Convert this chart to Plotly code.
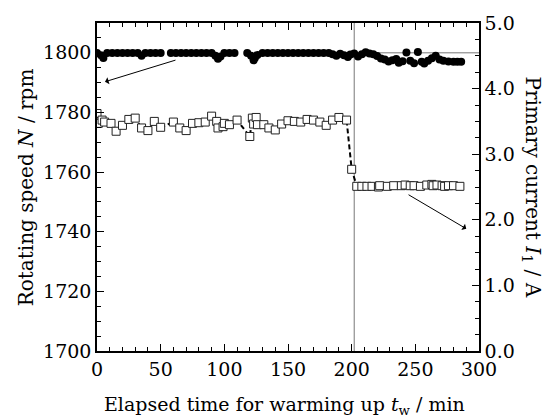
import plotly.graph_objects as go

# ---- data ----
# Rotating speed N (rpm), filled circles
speed_t = [0, 3, 5, 8, 12, 16, 20, 24, 28, 32, 35, 38, 42, 46, 50,
           58, 62, 66, 70, 74, 78, 82, 86, 90, 93, 95, 97, 100, 104, 108,
           118, 121, 123, 124, 126, 130, 134, 138, 142, 146, 150, 154, 158,
           162, 166, 170, 174, 178, 182, 185, 188, 191, 194, 197, 199, 202,
           205, 208, 211, 214, 217, 220, 223, 226, 229, 232, 235, 237, 240,
           243, 246, 249, 252, 255, 257, 260, 263, 266, 269, 272, 276, 280,
           283, 286]
speed_N = [1799.9, 1799.2, 1798.3, 1799.9, 1799.9, 1799.9, 1799.9, 1799.9,
           1799.9, 1799.9, 1799.0, 1799.9, 1799.9, 1799.9, 1799.9,
           1799.9, 1799.9, 1799.9, 1799.9, 1799.9, 1799.9, 1799.9, 1799.9,
           1799.9, 1799.0, 1798.0, 1798.8, 1799.9, 1799.9, 1799.9,
           1799.9, 1799.0, 1797.5, 1798.3, 1799.3, 1799.9, 1799.9, 1799.9,
           1799.9, 1799.9, 1799.9, 1799.9, 1799.9, 1799.9, 1799.9, 1799.9,
           1799.9, 1799.9, 1799.9, 1799.5, 1799.0, 1799.7, 1799.2, 1798.6,
           1799.4, 1799.8, 1798.8, 1799.5, 1800.2, 1799.8, 1799.5, 1798.9,
           1798.1, 1797.8, 1797.1, 1797.5, 1797.9, 1796.7, 1797.2, 1800.1,
           1797.3, 1796.5, 1800.3, 1797.0, 1796.4, 1797.3, 1798.2, 1799.0,
           1797.8, 1797.3, 1797.1, 1797.0, 1797.0, 1797.0]

# Primary current I1 (A), open squares
current_t = [0, 1, 4, 6, 11, 15, 20, 25, 30, 35, 40, 45, 50, 60, 65, 70, 75,
             80, 85, 90, 94, 95, 99, 100, 104, 110, 120, 122, 123, 125, 126,
             131, 135, 140, 145, 150, 155, 160, 165, 170, 175, 180, 185, 190,
             196, 200, 204, 208, 212, 216, 221, 222, 228, 233, 239, 242, 246,
             249, 254, 259, 263, 264, 267, 271, 273, 276, 280, 285]
current_I = [3.62, 3.47, 3.52, 3.49, 3.47, 3.35, 3.44, 3.53, 3.55, 3.40, 3.36,
             3.50, 3.41, 3.49, 3.40, 3.36, 3.47, 3.48, 3.49, 3.58, 3.50, 3.40,
             3.42, 3.47, 3.45, 3.52, 3.27, 3.55, 3.46, 3.56, 3.45, 3.45, 3.40,
             3.37, 3.46, 3.51, 3.50, 3.49, 3.53, 3.52, 3.49, 3.44, 3.52, 3.56,
             3.52, 2.77, 2.51, 2.51, 2.51, 2.51, 2.50, 2.52, 2.51, 2.52, 2.52,
             2.53, 2.52, 2.52, 2.51, 2.53, 2.54, 2.52, 2.53, 2.52, 2.51, 2.52,
             2.52, 2.51]

x_ticks = [0, 50, 100, 150, 200, 250, 300]
y_ticks = [1700, 1720, 1740, 1760, 1780, 1800]
y2_ticks = [0.0, 1.0, 2.0, 3.0, 4.0, 5.0]

switch_t = 202      # vertical reference line
rated_N = 1800      # horizontal reference line

FONT = "DejaVu Serif"
FS_TICK = 19
FS_TITLE_X = 19
FS_TITLE_Y = 20

fig = go.Figure()
fig.add_trace(go.Scatter(
    x=speed_t, y=speed_N, mode="markers", yaxis="y",
    marker=dict(symbol="circle", size=8, color="black"),
    showlegend=False))
fig.add_trace(go.Scatter(
    x=current_t, y=current_I, mode="lines+markers", yaxis="y2",
    line=dict(color="black", width=2, dash="5px,3px"),
    marker=dict(symbol="square", size=8, color="white",
                line=dict(color="#222", width=1)),
    showlegend=False))

# reference lines
fig.add_shape(type="line", xref="x", yref="paper", x0=switch_t, x1=switch_t,
              y0=0, y1=1, line=dict(color="#777", width=1), layer="below")
fig.add_shape(type="line", xref="x", yref="y", x0=switch_t, x1=300,
              y0=rated_N, y1=rated_N, line=dict(color="#777", width=1),
              layer="below")

# arrows
fig.add_annotation(x=6.3, y=1790.3, ax=62.8, ay=1797.7, xref="x", yref="y",
                   axref="x", ayref="y", showarrow=True, arrowhead=1,
                   arrowsize=1.2, arrowwidth=1, arrowcolor="black", text="")
fig.add_annotation(x=290, y=1741, ax=243.5, ay=1752.7, xref="x", yref="y",
                   axref="x", ayref="y", showarrow=True, arrowhead=1,
                   arrowsize=1.2, arrowwidth=1, arrowcolor="black", text="")

# axis titles
fig.add_annotation(text="Elapsed time for warming up <i>t</i><sub>w</sub> / min",
                   xref="paper", yref="paper", x=0.49, y=-0.165,
                   xanchor="center", yanchor="middle", showarrow=False,
                   font=dict(family=FONT, size=FS_TITLE_X, color="black"))
fig.add_annotation(text="Rotating speed <i>N</i> / rpm",
                   xref="paper", yref="paper", x=-0.185, y=0.5,
                   xanchor="center", yanchor="middle", showarrow=False,
                   textangle=-90,
                   font=dict(family=FONT, size=FS_TITLE_Y, color="black"))
fig.add_annotation(text="Primary current <i>I</i><sub>1</sub> / A",
                   xref="paper", yref="paper", x=1.14, y=0.5,
                   xanchor="center", yanchor="middle", showarrow=False,
                   textangle=90,
                   font=dict(family=FONT, size=FS_TITLE_Y, color="black"))

axis_common = dict(showgrid=False, zeroline=False, showline=True,
                   linecolor="black", linewidth=1.5, ticks="inside",
                   tickcolor="black", tickwidth=1, ticklen=7,
                   tickfont=dict(family=FONT, size=FS_TICK, color="black"))

fig.update_layout(
    width=549, height=418,
    margin=dict(l=97, r=70, t=21, b=67),
    paper_bgcolor="white", plot_bgcolor="white",
    font=dict(family=FONT, size=FS_TICK, color="black"),
    xaxis=dict(range=[0, 300], tickvals=x_ticks, mirror="ticks",
               minor=dict(dtick=10, tick0=0, ticks="inside", ticklen=4,
                          tickcolor="black"),
               **axis_common),
    yaxis=dict(range=[1700, 1810], tickvals=y_ticks,
               minor=dict(dtick=5, tick0=1700, ticks="inside", ticklen=4,
                          tickcolor="black"),
               **axis_common),
    yaxis2=dict(range=[0, 5], tickvals=y2_ticks, tickformat=".1f",
                overlaying="y", side="right",
                minor=dict(dtick=0.25, tick0=0, ticks="inside", ticklen=4,
                           tickcolor="black"),
                **axis_common),
)

fig.write_html("out.html")
